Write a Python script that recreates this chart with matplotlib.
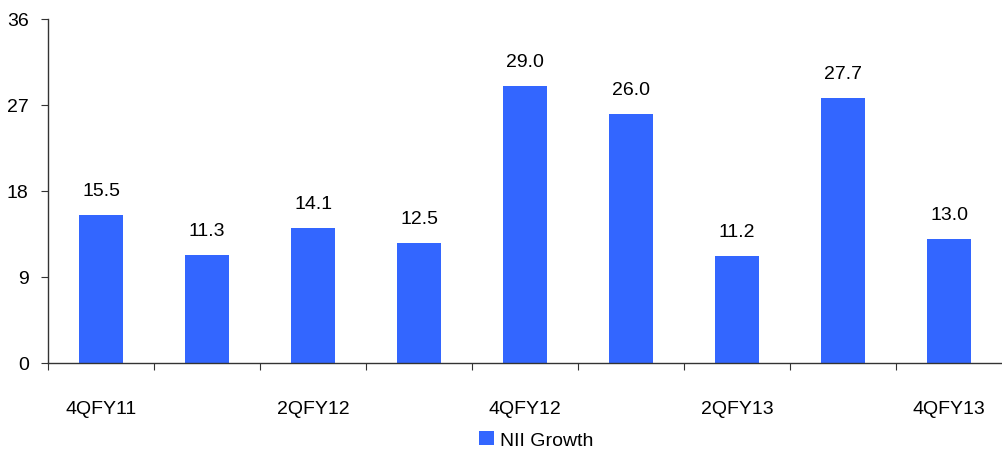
import matplotlib
matplotlib.use("Agg")
import matplotlib.pyplot as plt
import numpy as np

quarters = ["4QFY11", "1QFY12", "2QFY12", "3QFY12", "4QFY12",
            "1QFY13", "2QFY13", "3QFY13", "4QFY13"]
nii_growth = [15.5, 11.3, 14.1, 12.5, 29.0, 26.0, 11.2, 27.7, 13.0]
y_ticks = [0, 9, 18, 27, 36]

plt.rcParams["font.family"] = ["Liberation Sans", "DejaVu Sans"]
FS = 14

fig = plt.figure(figsize=(10.02, 4.52), dpi=100)
ax = fig.add_axes([0.048, 0.195, 0.952, 0.761])

x = np.arange(len(quarters))
bars = ax.bar(x, nii_growth, width=0.42, color="#3366FF", label="NII Growth", zorder=2)

for xi, v in zip(x, nii_growth):
    ax.text(xi, v + 2.1, f"{v:.1f}", ha="center", va="baseline", fontsize=FS, color="black")

ax.set_xlim(-0.5, len(quarters) - 0.5)
ax.set_ylim(0, 36)
ax.set_yticks(y_ticks)
ax.set_yticklabels([str(t) for t in y_ticks], fontsize=FS)

# major ticks mark category boundaries, minor ticks carry every other label
ax.set_xticks(np.arange(len(quarters)) - 0.5)
ax.set_xticklabels([])
ax.set_xticks(x[::2], minor=True)
ax.set_xticklabels(quarters[::2], minor=True, fontsize=FS)
ax.tick_params(axis="x", which="major", length=5, direction="out", color="#333333")
ax.tick_params(axis="x", which="minor", length=0, pad=27)
ax.tick_params(axis="y", length=5, direction="out", color="#333333", pad=9)

for side in ("top", "right"):
    ax.spines[side].set_visible(False)
for side in ("left", "bottom"):
    ax.spines[side].set_color("#333333")
    ax.spines[side].set_linewidth(1.0)

fig.legend(handles=[bars], labels=["NII Growth"], loc="center",
           bbox_to_anchor=(0.535, 0.025), frameon=False, fontsize=FS,
           handlelength=0.75, handleheight=0.75, handletextpad=0.3)

fig.savefig("out.png", dpi=100)
